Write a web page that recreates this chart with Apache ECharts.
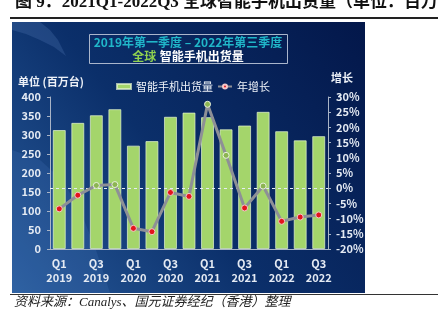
<!DOCTYPE html>
<html>
<head>
<meta charset="utf-8">
<script src="https://cdn.jsdelivr.net/npm/echarts@6/dist/echarts.min.js"></script>
<style>
html,body{margin:0;padding:0;background:#fff;}
#chart{width:438px;height:326px;}
</style>
</head>
<body>
<div id="chart"></div>
<script>
var categories = ["Q1 2019","Q2 2019","Q3 2019","Q4 2019","Q1 2020","Q2 2020","Q3 2020","Q4 2020","Q1 2021","Q2 2021","Q3 2021","Q4 2021","Q1 2022","Q2 2022","Q3 2022"];
var shipments = [313, 332, 352, 368, 272, 284, 348, 359, 347, 315, 325, 361, 310, 286, 297];
var growth = [-6.8, -2.3, 0.9, 1.2, -13.2, -14.3, -1.4, -2.7, 27.6, 10.8, -6.5, 0.7, -10.9, -9.5, -8.8];
var leftTicks = [0, 400, 50];
var rightTicks = [-20, 30, 5];
var chartTitle = "图 9：2021Q1-2022Q3 全球智能手机出货量（单位：百万台）";
var innerTitle1 = "2019年第一季度 – 2022年第三季度";
var innerTitle2a = "全球";
var innerTitle2b = "智能手机出货量";
var seriesNames = ["智能手机出货量", "年增长"];
var leftUnit = "单位 (百万台)";
var rightUnit = "增长";
var sourceText = "资料来源：Canalys、国元证券经纪（香港）整理";

var CJK = '"Noto Sans CJK SC", "Noto Sans", sans-serif';
var SERIF = '"Liberation Serif", "Noto Sans CJK SC", serif';
var labelColor = '#e4eaf3';

var chart = echarts.init(document.getElementById('chart'), null, {renderer: 'canvas'});

var growthData = growth.map(function (v) {
  return {
    value: v,
    itemStyle: v >= 0
      ? {color: '#8cb552', borderColor: '#e8f0dc', borderWidth: 1}
      : {color: '#e3141c', borderColor: '#f3c8c8', borderWidth: 1}
  };
});

var option = {
  animation: false,
  backgroundColor: '#ffffff',
  textStyle: {fontFamily: CJK},
  graphic: [
    {type: 'rect', z: -10, silent: true,
      shape: {x: 12, y: 22, width: 353, height: 271},
      style: {fill: new echarts.graphic.LinearGradient(1, 0, 0, 1, [
        {offset: 0, color: '#03174a'},
        {offset: 0.55, color: '#0b2f6a'},
        {offset: 1, color: '#275a9a'}
      ])}},
    {type: 'polygon', z: -9, silent: true,
      shape: {points: [[12,22],[40,22],[50,30],[58,40],[66,56],[54,47],[40,40],[26,34],[12,30]]},
      style: {fill: 'rgba(120,160,220,0.18)'}},
    {type: 'polygon', z: -9, silent: true,
      shape: {points: [[12,150],[40,160],[62,180],[80,210],[96,250],[110,293],[12,293]]},
      style: {fill: 'rgba(110,160,230,0.12)'}},
    {type: 'text', z: 10, left: 15, top: -6,
      style: {text: chartTitle, font: 'bold 17px ' + SERIF, fill: '#111'}},
    {type: 'rect', z: 10, silent: true,
      shape: {x: 10, y: 17, width: 428, height: 2},
      style: {fill: '#222'}},
    {type: 'rect', z: 10, silent: true,
      shape: {x: 10, y: 294, width: 428, height: 1},
      style: {fill: '#333'}},
    {type: 'text', z: 10, left: 14, top: 296,
      style: {text: sourceText, font: 'italic 13px ' + SERIF, fill: '#222'}},
    {type: 'rect', z: 10, silent: true,
      shape: {x: 89.5, y: 34.5, width: 198, height: 29},
      style: {fill: 'none', stroke: '#aab6cc', lineWidth: 1}},
    {type: 'text', z: 10, x: 188, y: 42,
      style: {text: innerTitle1, font: 'bold 12px ' + CJK, fill: '#20b6c9', textAlign: 'center', textVerticalAlign: 'middle'}},
    {type: 'text', z: 10, x: 188, y: 56,
      style: {
        text: '{g|' + innerTitle2a + '} {w|' + innerTitle2b + '}',
        textAlign: 'center', textVerticalAlign: 'middle',
        rich: {
          g: {font: 'bold 12px ' + CJK, fill: '#8fd14f'},
          w: {font: 'bold 12px ' + CJK, fill: '#ffffff'}
        }
      }},
    {type: 'text', z: 10, x: 18, y: 82,
      style: {text: leftUnit, font: 'bold 11px ' + CJK, fill: '#eef2f8', textVerticalAlign: 'middle'}},
    {type: 'text', z: 10, x: 331, y: 78,
      style: {text: rightUnit, font: 'bold 11px ' + CJK, fill: '#eef2f8', textVerticalAlign: 'middle'}}
  ],
  legend: {
    top: 76, left: 111,
    itemGap: 4,
    itemWidth: 14, itemHeight: 5,
    textStyle: {color: '#eef2f8', fontSize: 11, fontFamily: CJK},
    data: [
      {name: seriesNames[0], icon: 'rect'},
      {name: seriesNames[1], itemStyle: {color: '#e3141c'}}
    ]
  },
  grid: {left: 50, right: 110, top: 97, bottom: 77},
  xAxis: {
    type: 'category',
    data: categories,
    axisLine: {lineStyle: {color: '#a9b4c6', width: 1}},
    axisTick: {show: false},
    axisLabel: {
      interval: 1,
      color: labelColor, fontSize: 11, fontWeight: 'bold', lineHeight: 14, margin: 8,
      formatter: function (v) { return v.replace(' ', '\n'); }
    }
  },
  yAxis: [
    {
      type: 'value', min: leftTicks[0], max: leftTicks[1], interval: leftTicks[2],
      axisLine: {show: true, lineStyle: {color: '#a9b4c6'}},
      axisTick: {show: true, length: 3, lineStyle: {color: '#a9b4c6'}},
      splitLine: {show: false},
      axisLabel: {color: labelColor, fontSize: 11, fontWeight: 'bold', margin: 9}
    },
    {
      type: 'value', min: rightTicks[0], max: rightTicks[1], interval: rightTicks[2],
      axisLine: {show: true, lineStyle: {color: '#a9b4c6'}},
      axisTick: {show: true, length: 3, lineStyle: {color: '#a9b4c6'}},
      splitLine: {show: false},
      axisLabel: {color: labelColor, fontSize: 11, fontWeight: 'bold', margin: 8, formatter: '{value}%'}
    }
  ],
  series: [
    {
      name: seriesNames[0],
      type: 'bar',
      data: shipments,
      barWidth: '70%',
      itemStyle: {color: '#a4d56b', borderColor: 'rgba(230,245,210,0.7)', borderWidth: 1}
    },
    {
      name: seriesNames[1],
      type: 'line',
      yAxisIndex: 1,
      data: growthData,
      symbol: 'circle',
      symbolSize: 6,
      lineStyle: {color: '#8e9096', width: 3},
      itemStyle: {color: '#e3141c', borderColor: '#f3c8c8', borderWidth: 1},
      z: 5,
      markLine: {
        silent: true,
        symbol: 'none',
        label: {show: false},
        lineStyle: {color: '#e6ecf5', type: [3, 3], width: 1},
        data: [{yAxis: 0}]
      }
    }
  ]
};
chart.setOption(option);
</script>
</body>
</html>
